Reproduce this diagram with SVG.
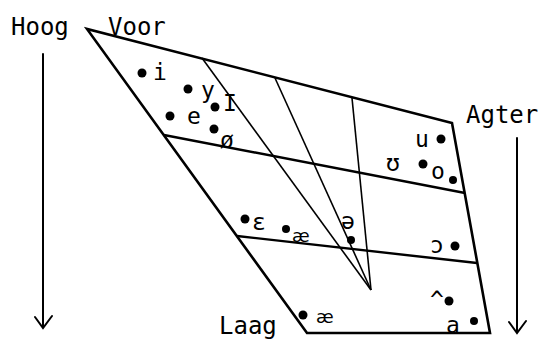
<svg xmlns="http://www.w3.org/2000/svg" width="548" height="342" viewBox="0 0 548 342">
<style>
.t{font-family:"DejaVu Sans Mono","Liberation Mono",monospace;fill:#000}
.lbl{font-size:24px}
.v{font-size:23px}
.s{font-family:"DejaVu Sans","Liberation Sans",sans-serif;font-size:18px}
.edge{fill:none;stroke:#000;stroke-width:2.6;stroke-linejoin:miter}
.grid{fill:none;stroke:#000;stroke-width:2.4}
.conv{fill:none;stroke:#000;stroke-width:1.6}
.arr{fill:none;stroke:#000;stroke-width:2;stroke-linecap:round}
circle{fill:#000}
</style>
<rect width="548" height="342" fill="#fff"/>
<g id="connectors">
  <path class="edge" d="M452,123 L87,29 L307,333 L490,333 Z"/>
  <path class="grid" d="M164,135 L465,193"/>
  <path class="grid" d="M237,236 L477,263"/>
  <path class="conv" d="M202,58 L371,290"/>
  <path class="conv" d="M275,78 L371,290"/>
  <path class="conv" d="M352,98 L371,290"/>
  <path class="arr" d="M43,54 L43,327 M35,317 L43,328 L52,316"/>
  <path class="arr" d="M517,138 L517,332 M509,322 L517,333 L526,321"/>
</g>
<g id="hoog"><text class="t lbl" x="11" y="35">Hoog</text></g>
<g id="voor"><text class="t lbl" x="108" y="35">Voor</text></g>
<g id="agter"><text class="t lbl" x="466" y="123">Agter</text></g>
<g id="laag"><text class="t lbl" x="219" y="334">Laag</text></g>
<g id="vowels">
  <g id="v-i"><circle cx="142" cy="73" r="4.5"/><text class="t v" x="153" y="80">i</text></g>
  <g id="v-y"><circle cx="188" cy="89" r="4.5"/><text class="t v" x="201" y="98">y</text></g>
  <g id="v-I"><circle cx="215" cy="107" r="4.5"/><text class="t v" x="223" y="111">I</text></g>
  <g id="v-e"><circle cx="170" cy="116" r="4.5"/><text class="t v" x="187" y="124">e</text></g>
  <g id="v-oe"><circle cx="214" cy="129" r="4.5"/><text class="t v" x="220" y="148">ø</text></g>
  <g id="v-eps"><circle cx="245" cy="219" r="4.5"/><text class="t v" x="252" y="230">ɛ</text></g>
  <g id="v-ae1"><circle cx="286" cy="229" r="4"/><text class="t s" x="292" y="242">æ</text></g>
  <g id="v-schwa"><circle cx="351" cy="240" r="4"/><text class="t v" x="341" y="229">ə</text></g>
  <g id="v-u"><circle cx="441" cy="139" r="4.5"/><text class="t v" x="415" y="147">u</text></g>
  <g id="v-U"><circle cx="423" cy="164" r="4.5"/><text class="t v" x="386" y="171">ʊ</text></g>
  <g id="v-o"><circle cx="453" cy="180" r="4"/><text class="t v" x="431" y="179">o</text></g>
  <g id="v-open-o"><circle cx="455" cy="246" r="4.5"/><text class="t v" x="430" y="253">ɔ</text></g>
  <g id="v-ae2"><circle cx="303" cy="315" r="4.5"/><text class="t s" x="316" y="323">æ</text></g>
  <g id="v-caret"><circle cx="449" cy="301" r="4.5"/><text class="t v" x="430" y="308">^</text></g>
  <g id="v-a"><circle cx="474" cy="321" r="4"/><text class="t v" x="446" y="333">a</text></g>
</g>
</svg>
